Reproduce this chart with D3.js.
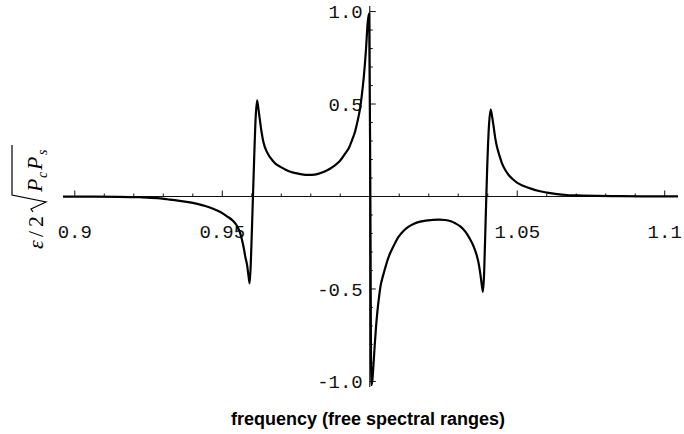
<!DOCTYPE html>
<html>
<head>
<meta charset="utf-8">
<script src="https://cdn.jsdelivr.net/npm/d3@7/dist/d3.min.js"></script>
<style>
  html, body { margin: 0; padding: 0; background: #fff; }
  svg { display: block; }
</style>
</head>
<body>
<svg id="chart" width="684" height="434"></svg>
<script>
// Frequency in free spectral ranges
const freq = [
  0.896, 0.905, 0.915, 0.922, 0.928, 0.9313, 0.935, 0.9385, 0.9415, 0.9445,
  0.9471, 0.9495, 0.9516, 0.9535, 0.9550, 0.9560, 0.9567, 0.9573, 0.9578, 0.9584,
  0.9589, 0.9593, 0.9598, 0.9603, 0.9608, 0.9613, 0.9618, 0.9622, 0.9627, 0.9633,
  0.9640, 0.9650, 0.9663, 0.9680, 0.9697, 0.9715, 0.9731, 0.9750, 0.9770, 0.9790,
  0.9804, 0.9825, 0.9843, 0.9865, 0.9883, 0.9900, 0.9917, 0.9930, 0.9940, 0.9950,
  0.9957, 0.9963, 0.9968, 0.9974, 0.9980, 0.9987, 0.9993, 0.9998, 1.0002, 1.0005,
  1.0009, 1.0013, 1.0017, 1.0021, 1.0026, 1.0031, 1.0037, 1.0043, 1.0050, 1.0060,
  1.0069, 1.0080, 1.0098, 1.0115, 1.0132, 1.0150, 1.0171, 1.0190, 1.0211, 1.0235,
  1.0256, 1.0275, 1.0290, 1.0308, 1.0324, 1.0338, 1.0352, 1.0362, 1.0369, 1.0375,
  1.0380, 1.0384, 1.0388, 1.0393, 1.0398, 1.0404, 1.0410, 1.0415, 1.0420, 1.0425,
  1.0431, 1.0440, 1.0448, 1.0460, 1.0471, 1.0485, 1.0499, 1.0520, 1.0544, 1.0570,
  1.0601, 1.0635, 1.0668, 1.0720, 1.0770, 1.0850, 1.0950, 1.1045
];

// Normalised field, epsilon / (2 sqrt(Pc Ps))
const signal = [
  -0.0003, -0.0006, -0.0015, -0.004, -0.009, -0.015, -0.022, -0.030, -0.040, -0.053,
  -0.068, -0.085, -0.107, -0.130, -0.160, -0.195, -0.235, -0.280, -0.325, -0.370,
  -0.430, -0.470, -0.300, -0.050, 0.200, 0.420, 0.520, 0.480, 0.420, 0.350,
  0.290, 0.245, 0.210, 0.178, 0.160, 0.145, 0.134, 0.126, 0.120, 0.117,
  0.117, 0.122, 0.132, 0.150, 0.170, 0.195, 0.233, 0.265, 0.305, 0.350,
  0.396, 0.440, 0.485, 0.560, 0.650, 0.790, 0.940, 0.990, 0.000, -1.020,
  -0.990, -0.900, -0.800, -0.710, -0.620, -0.550, -0.480, -0.440, -0.400, -0.345,
  -0.307, -0.270, -0.217, -0.185, -0.163, -0.147, -0.136, -0.130, -0.127, -0.125,
  -0.127, -0.134, -0.145, -0.163, -0.190, -0.225, -0.270, -0.315, -0.360, -0.420,
  -0.480, -0.515, -0.400, -0.120, 0.150, 0.380, 0.470, 0.430, 0.377, 0.320,
  0.270, 0.220, 0.180, 0.142, 0.116, 0.093, 0.075, 0.058, 0.044, 0.031,
  0.021, 0.013, 0.008, 0.005, 0.003, 0.0015, 0.0008, 0.0005
];

const xMajor = [0.9, 0.95, 1.05, 1.1];
const xLabels = ["0.9", "0.95", "1.05", "1.1"];
const xMinor = [0.91, 0.92, 0.93, 0.94, 0.96, 0.97, 0.98, 0.99, 1.01, 1.02, 1.03, 1.04, 1.06, 1.07, 1.08, 1.09];
const yMajor = [1.0, 0.5, -0.5, -1.0];
const yLabels = ["1.0", "0.5", "-0.5", "-1.0"];
const yMinor = [0.9, 0.8, 0.7, 0.6, 0.4, 0.3, 0.2, 0.1, -0.1, -0.2, -0.3, -0.4, -0.6, -0.7, -0.8, -0.9];

const xTitle = "frequency (free spectral ranges)";

const svg = d3.select("#chart");

const x = d3.scaleLinear().domain([0.896, 1.1045]).range([63, 678]);
const y = d3.scaleLinear().domain([-1.03, 1.03]).range([387, 6]);

const x0 = x(1.0), y0 = y(0);
const ink = "#111";

// Axes through the origin
svg.append("line")
  .attr("x1", x.range()[0]).attr("x2", x.range()[1])
  .attr("y1", y0).attr("y2", y0)
  .attr("stroke", ink).attr("stroke-width", 1.1);
svg.append("line")
  .attr("x1", x0).attr("x2", x0)
  .attr("y1", y.range()[0]).attr("y2", y.range()[1])
  .attr("stroke", ink).attr("stroke-width", 1.1);

// x ticks point upward, y ticks point right
svg.selectAll(".xmaj").data(xMajor).join("line")
  .attr("x1", d => x(d)).attr("x2", d => x(d))
  .attr("y1", y0).attr("y2", y0 - 6)
  .attr("stroke", ink).attr("stroke-width", 1);
svg.selectAll(".xmin").data(xMinor).join("line")
  .attr("x1", d => x(d)).attr("x2", d => x(d))
  .attr("y1", y0).attr("y2", y0 - 3)
  .attr("stroke", ink).attr("stroke-width", 1);
svg.selectAll(".ymaj").data(yMajor).join("line")
  .attr("x1", x0).attr("x2", x0 + 6)
  .attr("y1", d => y(d)).attr("y2", d => y(d))
  .attr("stroke", ink).attr("stroke-width", 1);
svg.selectAll(".ymin").data(yMinor).join("line")
  .attr("x1", x0).attr("x2", x0 + 3)
  .attr("y1", d => y(d)).attr("y2", d => y(d))
  .attr("stroke", ink).attr("stroke-width", 1);

const monoFont = "'Liberation Mono', 'Courier New', monospace";

svg.selectAll(".xlab").data(xMajor).join("text")
  .attr("x", d => x(d)).attr("y", y0 + 41)
  .attr("text-anchor", "middle")
  .attr("font-family", monoFont).attr("font-size", 19)
  .attr("fill", ink)
  .text((d, i) => xLabels[i]);

svg.selectAll(".ylab").data(yMajor).join("text")
  .attr("x", x0 - 7).attr("y", d => y(d))
  .attr("dy", "0.35em")
  .attr("text-anchor", "end")
  .attr("font-family", monoFont).attr("font-size", 19)
  .attr("fill", ink)
  .text((d, i) => yLabels[i]);

// The curve
const pts = freq.map((f, i) => [f, signal[i]]);
svg.append("path")
  .datum(pts)
  .attr("fill", "none")
  .attr("stroke", "#000")
  .attr("stroke-width", 2.2)
  .attr("stroke-linejoin", "round")
  .attr("d", d3.line().x(d => x(d[0])).y(d => y(d[1])).curve(d3.curveMonotoneX));

// x-axis title
svg.append("text")
  .attr("x", 368).attr("y", 425)
  .attr("text-anchor", "middle")
  .attr("font-family", "'Liberation Sans', Arial, sans-serif")
  .attr("font-weight", "bold").attr("font-size", 18)
  .attr("fill", "#000")
  .text(xTitle);

// y-axis title: epsilon / 2 sqrt(Pc Ps), set vertically
const yt = svg.append("g").attr("transform", "translate(43,250) rotate(-90)");
const serif = "'Liberation Serif', 'Times New Roman', serif";
const glyphs = [
  { t: "\u03B5", u: 1, v: 0, s: 22, it: true },
  { t: "/", u: 13, v: 0, s: 22, it: false },
  { t: "2", u: 23, v: 0, s: 22, it: false },
  { t: "P", u: 58, v: -1, s: 22, it: true },
  { t: "c", u: 72, v: 4, s: 14, it: true },
  { t: "P", u: 80, v: -1, s: 22, it: true },
  { t: "s", u: 95, v: 4, s: 14, it: true }
];
yt.selectAll("text").data(glyphs).join("text")
  .attr("x", d => d.u).attr("y", d => d.v)
  .attr("font-family", serif)
  .attr("font-size", d => d.s)
  .attr("font-style", d => d.it ? "italic" : "normal")
  .attr("fill", "#000")
  .text(d => d.t);
yt.append("path")
  .attr("d", "M38,-10 L41,-12 L48,3 L55,-31 L105,-31")
  .attr("fill", "none").attr("stroke", "#000").attr("stroke-width", 1.2);
</script>
</body>
</html>
